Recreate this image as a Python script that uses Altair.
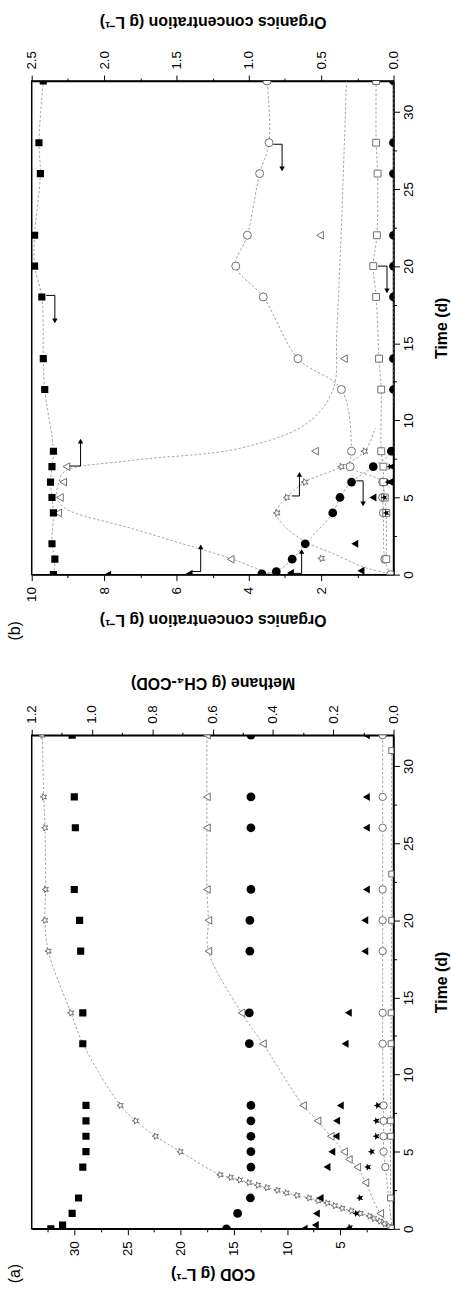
import altair as alt
import pandas as pd

# ======================= DATA =======================
# ---- Panel (a): COD (g/L) filled symbols, methane (g CH4-COD) open symbols
a_fsq_t = [0, 0.25, 1, 2, 4, 5, 6, 7, 8, 12, 14, 18, 20, 22, 26, 28, 32]
a_fsq_v = [32.2, 31.1, 30.2, 29.6, 29.2, 28.9, 28.9, 28.9, 28.9, 29.2, 29.2, 29.4, 29.5, 30.0, 29.9, 30.0, 30.2]
a_fci_t = [0, 1, 2, 4, 5, 6, 7, 8, 12, 14, 18, 20, 22, 26, 28, 32]
a_fci_v = [15.7, 14.65, 13.45, 13.4, 13.4, 13.4, 13.4, 13.4, 13.55, 13.55, 13.5, 13.5, 13.4, 13.4, 13.4, 13.4]
a_ftr_t = [0, 0.25, 1, 2, 4, 5, 6, 7, 8, 12, 14, 18, 20, 22, 26, 28, 32]
a_ftr_v = [8.4, 7.35, 7.25, 6.9, 6.25, 5.8, 5.4, 5.35, 5.0, 4.55, 4.25, 2.7, 2.7, 2.55, 2.55, 2.55, 2.55]
a_fst_t = [0.1, 1, 2, 4, 5, 6, 7, 8]
a_fst_v = [4.1, 3.5, 3.15, 2.4, 2.05, 1.6, 1.6, 1.5]

a_ost_t = [0, 0.17, 0.33, 0.5, 0.67, 0.83, 1.0, 1.17, 1.33, 1.5, 1.67, 1.83, 2.0, 2.17, 2.33,
           2.5, 2.67, 2.83, 3.0, 3.17, 3.33, 3.5, 5, 6, 7, 8, 12, 14, 18, 20, 22, 26, 28, 32]
a_ost_v = [0.0, 0.015, 0.03, 0.045, 0.065, 0.08, 0.11, 0.14, 0.17, 0.195, 0.22, 0.25, 0.28, 0.32, 0.355,
           0.385, 0.42, 0.45, 0.48, 0.51, 0.54, 0.575, 0.707, 0.789, 0.855, 0.906, 1.03, 1.07, 1.145,
           1.156, 1.154, 1.156, 1.16, 1.165]
a_otr_t = [0, 1, 3, 4, 4.5, 5, 6, 7, 8, 12, 14, 18, 20, 22, 26, 28, 32]
a_otr_v = [0.0, 0.044, 0.093, 0.12, 0.148, 0.164, 0.208, 0.252, 0.30, 0.433, 0.504, 0.614, 0.614,
           0.619, 0.619, 0.619, 0.619]
a_oci_t = [0, 4, 5, 6, 7, 8, 12, 14, 18, 20, 22, 26, 28, 32]
a_oci_v = [0.005, 0.027, 0.033, 0.033, 0.033, 0.033, 0.036, 0.036, 0.036, 0.036, 0.036, 0.036, 0.036, 0.036]
a_osq_t = [2, 6, 7, 12, 14, 20, 23, 31]
a_osq_v = [0.01, 0.01, 0.01, 0.008, 0.008, 0.006, 0.006, 0.006]

# ---- Panel (b): left axis 0-10 g/L, right axis 0-2.5 g/L
b_fsq_t = [0, 1, 2, 4, 5, 6, 7, 8, 12, 14, 18, 20, 22, 26, 28, 32]          # right
b_fsq_v = [2.35, 2.34, 2.36, 2.35, 2.36, 2.37, 2.36, 2.35, 2.41, 2.42, 2.43, 2.48, 2.48, 2.44, 2.45, 2.42]
b_fci_t = [0.05, 0.2, 1, 2, 4, 5, 6, 7, 8, 12, 14, 18, 20, 22, 26, 28, 32]   # right
b_fci_v = [0.91, 0.81, 0.70, 0.61, 0.42, 0.37, 0.29, 0.14, 0.015, 0, 0, 0, 0, 0, 0, 0, 0]
b_ftr_t = [0, 0.05, 0.1, 0.25, 2, 5, 6, 7, 8, 12]                             # left
b_ftr_v = [7.9, 5.65, 2.85, 0.9, 1.07, 0.57, 0.1, 0.05, 0.05, 0.0]
b_fst_t = [4, 5, 6, 7, 8]                                                     # left
b_fst_v = [0.2, 0.25, 0.15, 0.1, 0.05]

b_otr_t = [1, 4, 5, 6, 7, 8, 14, 22]                                          # left
b_otr_v = [4.5, 9.27, 9.22, 9.13, 9.04, 2.17, 1.37, 2.03]
b_otr_fit_t = [0, 0.5, 1.05, 1.7, 3.0, 4.3, 5, 6, 6.7, 7.4, 8.2, 9.8, 12, 15.6, 22, 32]
b_otr_fit_v = [3.3, 3.9, 4.5, 5.4, 7.25, 9.08, 9.3, 9.25, 9.08, 7.25, 4.23, 2.4, 1.67, 1.57, 1.45, 1.3]
b_ost_t = [1.05, 4, 5, 6, 7, 8]                                               # left
b_ost_v = [1.99, 3.22, 2.95, 2.45, 1.44, 0.8]
b_ost_fit_t = [0, 0.5, 1.26, 2.1, 3.0, 4, 5, 6, 7, 8, 9.5]
b_ost_fit_v = [0.0, 0.84, 1.57, 2.4, 2.95, 3.25, 2.95, 2.45, 1.44, 0.8, 0.5]
b_oci_t = [0, 1, 4, 5, 6, 7, 8, 12, 14, 18, 20, 22, 26, 28, 32]               # right
b_oci_v = [0.02, 0.06, 0.07, 0.075, 0.075, 0.30, 0.29, 0.36, 0.66, 0.90, 1.09, 1.01, 0.925, 0.86, 0.874]
b_osq_t = [1, 4, 5, 6, 7, 8, 12, 14, 18, 20, 22, 26, 28, 32]                  # right
b_osq_v = [0.05, 0.05, 0.06, 0.07, 0.07, 0.085, 0.085, 0.10, 0.12, 0.14, 0.115, 0.11, 0.12, 0.12]

# arrows: horizontal from v0 to v1 at t0, then vertical from t0 to t1 at v1
arr_r_v0 = [2.40, 0.83, 0.108, 0.256]
arr_r_v1 = [2.34, 0.77, 0.045, 0.21]
arr_r_t0 = [18.1, 27.9, 20.0, 6.08]
arr_r_t1 = [16.45, 26.3, 18.4, 4.58]
arr_l_v0 = [8.95, 2.81, 5.6, 2.86]
arr_l_v1 = [8.65, 2.60, 5.33, 2.54]
arr_l_t0 = [7.04, 5.1, 0.2, 0.08]
arr_l_t1 = [8.65, 6.5, 1.8, 1.5]

# axis ticks / labels
time_major = [0, 5, 10, 15, 20, 25, 30]
time_minor = [2.5, 7.5, 12.5, 17.5, 22.5, 27.5]
cod_major = [5, 10, 15, 20, 25, 30]
cod_minor = [2.5, 7.5, 12.5, 17.5, 22.5, 27.5, 32.5]
meth_major = [0.0, 0.2, 0.4, 0.6, 0.8, 1.0, 1.2]
meth_minor = [0.1, 0.3, 0.5, 0.7, 0.9, 1.1]
orgL_major = [2, 4, 6, 8, 10]
orgL_minor = [1, 3, 5, 7, 9]
orgR_major = [0.0, 0.5, 1.0, 1.5, 2.0, 2.5]
orgR_minor = [0.25, 0.75, 1.25, 1.75, 2.25]

# ======================= STYLE =======================
W, H = 365, 498
FONT = "Liberation Sans"
OPEN = "#6e6e6e"
LINE = "#9a9a9a"
LBL, TTL = 13.5, 16
DOM_COD, DOM_METH = [0, 34], [0, 1.2]
DOM_L, DOM_R = [0, 10], [0, 2.5]
STAR = ("M0,-1L0.26,-0.36L0.951,-0.309L0.42,0.137L0.588,0.809L0,0.44L-0.588,0.809"
        "L-0.42,0.137L-0.951,-0.309L-0.26,-0.36Z")


def tsc():
    return alt.Scale(domain=[0, 32], nice=False, zero=False)


def vsc(dom):
    return alt.Scale(domain=dom, reverse=True, nice=False, zero=False)


def enc(dom):
    return dict(x=alt.X("v:Q", scale=vsc(dom), axis=None),
                y=alt.Y("t:Q", scale=tsc(), axis=None))


def pts(t, v, dom, shape, filled, size, angle=0):
    d = pd.DataFrame({"t": t, "v": v})
    if filled:
        m = alt.Chart(d).mark_point(shape=shape, filled=True, color="black", size=size,
                                    angle=angle, opacity=1, clip=True)
    else:
        m = alt.Chart(d).mark_point(shape=shape, filled=True, fill="white", stroke=OPEN,
                                    strokeWidth=1, size=size, angle=angle, opacity=1, clip=True)
    return m.encode(**enc(dom))


def line(t, v, dom):
    d = pd.DataFrame({"t": t, "v": v})
    return alt.Chart(d).mark_line(color=LINE, strokeWidth=0.9, strokeDash=[2.5, 2],
                                  interpolate="catmull-rom", clip=True).encode(
        order=alt.Order("t:Q"), **enc(dom))


def arrows(v0, v1, t0, t1, dom, head):
    d = pd.DataFrame({"v0": v0, "v1": v1, "t0": t0, "t1": t1})
    x0 = alt.X("v0:Q", scale=vsc(dom), axis=None)
    x1 = alt.X("v1:Q", scale=vsc(dom), axis=None)
    h = alt.Chart(d).mark_rule(color="black", strokeWidth=1).encode(
        x=x0, x2="v1:Q", y=alt.Y("t0:Q", scale=tsc(), axis=None))
    vert = alt.Chart(d).mark_rule(color="black", strokeWidth=1).encode(
        x=x1, y=alt.Y("t0:Q", scale=tsc(), axis=None), y2="t1:Q")
    hd = alt.Chart(d).mark_point(shape=head, filled=True, color="black", size=30, opacity=1).encode(
        x=x1, y=alt.Y("t1:Q", scale=tsc(), axis=None))
    return [h, vert, hd]


def xaxis_layer(dom, orient, values, fmt=None, title=None, minor=False, tpad=10):
    kw = dict(orient=orient, values=values, grid=False, tickColor="black", tickWidth=1,
              domainColor="black", domainWidth=1.5)
    if minor:
        kw.update(labels=False, tickSize=3, domain=False, title="")
    else:
        kw.update(tickSize=6, format=fmt, labelAngle=270,
                  labelAlign="right" if orient == "bottom" else "left",
                  labelBaseline="middle", labelFontSize=LBL, labelFont=FONT, labelColor="black",
                  labelPadding=6, labelFlush=False, labelOverlap=False,
                  title=title, titleAngle=180,
                  titleBaseline="bottom" if orient == "bottom" else "top",
                  titleFontSize=TTL, titleFont=FONT, titleFontWeight="bold", titleColor="black",
                  titlePadding=tpad)
    d = pd.DataFrame({"v": [dom[0]], "t": [0]})
    return alt.Chart(d).mark_point(opacity=0).encode(
        x=alt.X("v:Q", scale=vsc(dom), axis=alt.Axis(**kw)),
        y=alt.Y("t:Q", scale=tsc(), axis=None))


def yaxis_layer(values, minor=False):
    kw = dict(orient="right", values=values, grid=False, tickColor="black", tickWidth=1,
              domainColor="black", domainWidth=1.5)
    if minor:
        kw.update(labels=False, tickSize=3, domain=False, title="")
    else:
        kw.update(tickSize=6, format="d", labelAngle=270, labelAlign="center",
                  labelBaseline="top", labelFontSize=LBL, labelFont=FONT, labelColor="black",
                  labelPadding=2, labelFlush=False, labelOverlap=False,
                  title="Time (d)", titleAngle=270, titleBaseline="top", titleFontSize=TTL,
                  titleFont=FONT, titleFontWeight="bold", titleColor="black", titlePadding=19)
    d = pd.DataFrame({"v": [0.0], "t": [0.0]})
    return alt.Chart(d).mark_point(opacity=0).encode(
        x=alt.X("v:Q", scale=vsc([0, 1]), axis=None),
        y=alt.Y("t:Q", scale=tsc(), axis=alt.Axis(**kw)))


def tag(text, dom, v, t):
    d = pd.DataFrame({"lab": [text], "v": [v], "t": [t]})
    return alt.Chart(d).mark_text(angle=270, fontSize=16, font=FONT, color="black",
                                  align="center", baseline="middle").encode(
        text="lab:N", **enc(dom))


# ======================= PANEL (b) =======================
b_layers = [
    line(b_fsq_t, b_fsq_v, DOM_R),
    line(b_fci_t, b_fci_v, DOM_R),
    line(b_oci_t, b_oci_v, DOM_R),
    line(b_osq_t, b_osq_v, DOM_R),
    line(b_otr_fit_t, b_otr_fit_v, DOM_L),
    line(b_ost_fit_t, b_ost_fit_v, DOM_L),
    pts(b_otr_t, b_otr_v, DOM_L, "triangle-left", False, 60),
    pts(b_ost_t, b_ost_v, DOM_L, STAR, False, 55, 270),
    pts(b_oci_t, b_oci_v, DOM_R, "circle", False, 65),
    pts(b_osq_t, b_osq_v, DOM_R, "square", False, 48),
    pts(b_fsq_t, b_fsq_v, DOM_R, "square", True, 52),
    pts(b_fci_t, b_fci_v, DOM_R, "circle", True, 78),
    pts(b_ftr_t, b_ftr_v, DOM_L, "triangle-left", True, 65),
    pts(b_fst_t, b_fst_v, DOM_L, STAR, True, 50, 270),
]
b_layers += arrows(arr_r_v0, arr_r_v1, arr_r_t0, arr_r_t1, DOM_R, "triangle-down")
b_layers += arrows(arr_l_v0, arr_l_v1, arr_l_t0, arr_l_t1, DOM_L, "triangle-up")
b_layers += [
    xaxis_layer(DOM_L, "bottom", orgL_major, "d", "Organics concentration (g L\u207b\u00b9)", tpad=10),
    xaxis_layer(DOM_L, "bottom", orgL_minor, minor=True),
    xaxis_layer(DOM_R, "top", orgR_major, ".1f", "Organics concentration (g L\u207b\u00b9)", tpad=21),
    xaxis_layer(DOM_R, "top", orgR_minor, minor=True),
    yaxis_layer(time_major),
    yaxis_layer(time_minor, minor=True),
    tag("(b)", DOM_L, 10.47, -3.65),
]
panel_b = alt.layer(*b_layers).resolve_scale(x="independent", y="independent").properties(
    width=W, height=H)

# ======================= PANEL (a) =======================
a_layers = [
    line(a_ost_t, a_ost_v, DOM_METH),
    line(a_otr_t, a_otr_v, DOM_METH),
    line(a_oci_t, a_oci_v, DOM_METH),
    line(a_osq_t, a_osq_v, DOM_METH),
    pts(a_ost_t, a_ost_v, DOM_METH, STAR, False, 48, 270),
    pts(a_otr_t, a_otr_v, DOM_METH, "triangle-left", False, 60),
    pts(a_oci_t, a_oci_v, DOM_METH, "circle", False, 55),
    pts(a_osq_t, a_osq_v, DOM_METH, "square", False, 35),
    pts(a_fsq_t, a_fsq_v, DOM_COD, "square", True, 52),
    pts(a_fci_t, a_fci_v, DOM_COD, "circle", True, 78),
    pts(a_ftr_t, a_ftr_v, DOM_COD, "triangle-left", True, 65),
    pts(a_fst_t, a_fst_v, DOM_COD, STAR, True, 60, 270),
    xaxis_layer(DOM_COD, "bottom", cod_major, "d", "COD (g L\u207b\u00b9)", tpad=10),
    xaxis_layer(DOM_COD, "bottom", cod_minor, minor=True),
    xaxis_layer(DOM_METH, "top", meth_major, ".1f", "Methane (g CH\u2084-COD)", tpad=14),
    xaxis_layer(DOM_METH, "top", meth_minor, minor=True),
    yaxis_layer(time_major),
    yaxis_layer(time_minor, minor=True),
    tag("(a)", DOM_COD, 35.6, -2.9),
]
panel_a = alt.layer(*a_layers).resolve_scale(x="independent", y="independent").properties(
    width=W, height=H)

chart = alt.vconcat(panel_b, panel_a, spacing=32).properties(
    padding={"left": 6, "top": 7, "right": 0, "bottom": 0},
    background="white",
).configure_view(stroke="black", strokeWidth=1.5)

chart.save("out.html", embed_options={"renderer": "svg", "actions": False})
